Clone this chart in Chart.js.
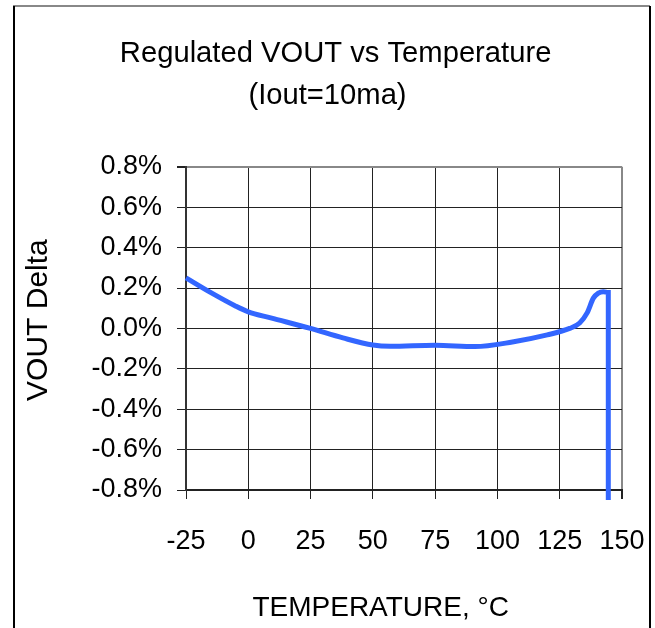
<!DOCTYPE html>
<html>
<head>
<meta charset="utf-8">
<script src="https://cdn.jsdelivr.net/npm/chart.js@4.4.1/dist/chart.umd.min.js"></script>
<style>
  html, body { margin: 0; padding: 0; background: #fff; }
  #wrap { width: 655px; height: 628px; }
</style>
</head>
<body>
<div id="wrap"><canvas id="myChart" width="655" height="628"></canvas></div>
<script>
// temperature (°C) and VOUT delta (%)
const temps = [-25, -15, -5, 0, 9, 25, 38, 50, 57, 75, 91, 106, 120, 129, 133, 136, 138.5, 140.5, 142.5, 144.5, 144.5];
const voutDelta = [0.25, 0.177, 0.11, 0.082, 0.052, 0.0, -0.047, -0.082, -0.088, -0.083, -0.09, -0.067, -0.032, 0.0, 0.027, 0.077, 0.15, 0.175, 0.182, 0.178, -0.85];

const xTickLabels = ['-25', '0', '25', '50', '75', '100', '125', '150'];
const yTickLabels = ['-0.8%', '-0.6%', '-0.4%', '-0.2%', '0.0%', '0.2%', '0.4%', '0.6%', '0.8%'];

const FONT = 'Liberation Sans, Arial, sans-serif';
const NB = '\u00a0';

// outer frame of the picture
const framePlugin = {
    id: 'frame',
    afterDraw(chart) {
        const ctx = chart.ctx;
        ctx.save();
        ctx.lineWidth = 2;
        ctx.strokeStyle = '#888';
        ctx.beginPath();
        ctx.moveTo(13, 6);
        ctx.lineTo(650, 6);
        ctx.stroke();
        ctx.strokeStyle = '#000';
        ctx.beginPath();
        ctx.moveTo(14, 6);
        ctx.lineTo(14, 640);
        ctx.moveTo(650, 6);
        ctx.lineTo(650, 640);
        ctx.stroke();
        ctx.restore();
    }
};

const ctx = document.getElementById('myChart').getContext('2d');
new Chart(ctx, {
    type: 'line',
    data: {
        datasets: [{
            data: temps.map((t, i) => ({ x: t, y: voutDelta[i] })),
            borderColor: '#3366ff',
            borderWidth: 5,
            pointRadius: 0,
            fill: false,
            cubicInterpolationMode: 'monotone',
            clip: 10
        }]
    },
    options: {
        responsive: false,
        animation: false,
        layout: { padding: 0 },
        plugins: {
            legend: { display: false },
            tooltip: { enabled: false },
            title: {
                display: true,
                text: [NB + NB + 'Regulated VOUT vs Temperature', '(Iout=10ma)'],
                color: '#000',
                font: { family: FONT, size: 29.2, weight: 'normal', lineHeight: 1.47 },
                padding: { top: 32, bottom: 49 }
            }
        },
        scales: {
            x: {
                type: 'linear',
                min: -25,
                max: 150,
                afterFit(scale) {
                    scale.height = 138;
                    scale.paddingLeft = 0;
                    scale.paddingRight = 33;
                },
                ticks: {
                    stepSize: 25,
                    color: '#000',
                    padding: 26,
                    font: { family: FONT, size: 27 },
                    callback: (v, i) => xTickLabels[i]
                },
                grid: {
                    color: ctx => ctx.index === xTickLabels.length - 1 ? '#888' : '#222',
                    lineWidth: ctx => ctx.index === xTickLabels.length - 1 ? 2 : 1,
                    tickLength: 9,
                    tickColor: '#222'
                },
                border: { color: '#222', width: 2 },
                title: {
                    display: true,
                    text: 'TEMPERATURE, °C' + NB.repeat(6),
                    color: '#000',
                    font: { family: FONT, size: 28 },
                    padding: { top: 0, bottom: 3 }
                }
            },
            y: {
                min: -0.8,
                max: 0.8,
                afterFit(scale) { scale.width = 186; },
                ticks: {
                    stepSize: 0.2,
                    color: '#000',
                    padding: 15,
                    font: { family: FONT, size: 27 },
                    callback: (v, i) => yTickLabels[i]
                },
                grid: {
                    color: ctx => ctx.index === yTickLabels.length - 1 ? '#888' : '#222',
                    lineWidth: ctx => ctx.index === yTickLabels.length - 1 ? 2 : 1,
                    tickLength: 9,
                    tickColor: '#222'
                },
                border: { color: '#333', width: 2 },
                title: {
                    display: true,
                    text: NB.repeat(2) + 'VOUT Delta',
                    color: '#000',
                    font: { family: FONT, size: 30 },
                    padding: { top: 21, bottom: 0 }
                }
            }
        }
    },
    plugins: [framePlugin]
});
</script>
</body>
</html>
